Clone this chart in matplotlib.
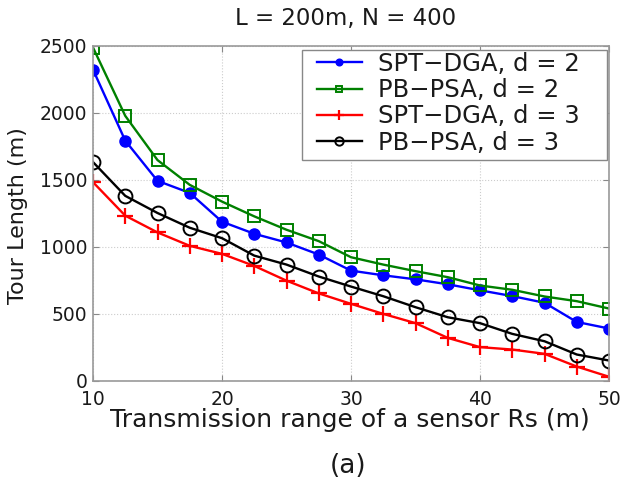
import matplotlib
matplotlib.use("Agg")
import matplotlib.pyplot as plt
from matplotlib.patches import Rectangle

plt.rcParams['font.family'] = ['DejaVu Sans']

rs = [10, 12.5, 15, 17.5, 20, 22.5, 25, 27.5, 30, 32.5, 35, 37.5, 40, 42.5, 45, 47.5, 50]
spt_d2 = [2320, 1790, 1490, 1400, 1185, 1095, 1030, 940, 820, 785, 755, 718, 673, 630, 580, 437, 388]
pb_d2 = [2485, 1975, 1645, 1460, 1335, 1225, 1125, 1040, 920, 865, 816, 771, 709, 677, 627, 592, 537]
spt_d3 = [1480, 1230, 1105, 1005, 945, 855, 745, 650, 572, 497, 428, 318, 249, 231, 199, 104, 28]
pb_d3 = [1630, 1378, 1250, 1140, 1062, 932, 865, 776, 701, 629, 547, 472, 428, 348, 293, 194, 149]
labels = ['SPT\u2212DGA, d = 2', 'PB\u2212PSA, d = 2', 'SPT\u2212DGA, d = 3', 'PB\u2212PSA, d = 3']
xticks = [10, 20, 30, 40, 50]
yticks = [0, 500, 1000, 1500, 2000, 2500]

W, H = 623, 479
fig = plt.figure(figsize=(W / 100, H / 100), dpi=100)
AX_L, AX_R, AX_T, AX_B = 93, 609, 45.5, 380.5
ax = fig.add_axes([AX_L / W, 1 - AX_B / H, (AX_R - AX_L) / W, (AX_B - AX_T) / H])

def ax_x(px):
    return (px - AX_L) / (AX_R - AX_L)

def ax_y(py):
    return (AX_B - py) / (AX_B - AX_T)

lw = 1.7
ax.plot(rs, spt_d2, color='#0000ff', marker='o', ms=8, mfc='#0000ff', mec='#0000ff', lw=lw, label=labels[0])
ax.plot(rs, pb_d2, color='#008000', marker='s', ms=8, mfc='none', mec='#008000', mew=1.4, lw=lw, label=labels[1])
ax.plot(rs, spt_d3, color='#ff0000', marker='+', ms=11, mew=1.6, lw=lw, label=labels[2])
ax.plot(rs, pb_d3, color='black', marker='o', ms=10, mfc='none', mec='black', mew=1.4, lw=lw, label=labels[3])

ax.set_xlim(10, 50)
ax.set_ylim(0, 2500)
ax.set_xticks(xticks)
ax.set_yticks(yticks)
ax.tick_params(direction='in', length=4, labelsize=13.5, colors='#888888', labelcolor='#1a1a1a',
               top=True, right=True)
ax.tick_params(axis='x', pad=7)
ax.tick_params(axis='y', pad=4)
ax.grid(True, linestyle=':', color='#cccccc', linewidth=0.8)
for s in ax.spines.values():
    s.set_color('#999999')
    s.set_linewidth(1.2)

fig.text(346 / W, 1 - 18 / H, 'L = 200m, N = 400', fontsize=16.5, ha='center', va='center', color='#1a1a1a')
fig.text(350 / W, 1 - 427 / H, 'Transmission range of a sensor Rs (m)', fontsize=18, ha='center', va='baseline', color='#1a1a1a')
fig.text(18 / W, 1 - 216 / H, 'Tour Length (m)', fontsize=16, rotation=90, ha='center', va='center', color='#1a1a1a')
fig.text(348 / W, 1 - 466 / H, '(a)', fontsize=19, ha='center', va='center', color='#1a1a1a')

# legend frame
frame = Rectangle((ax_x(302), ax_y(160)), ax_x(607) - ax_x(302), ax_y(50) - ax_y(160),
                  transform=ax.transAxes, facecolor='white', edgecolor='#888888', lw=1.0, zorder=4)
ax.add_patch(frame)
leg = ax.legend(loc='upper left', bbox_to_anchor=(ax_x(317), ax_y(52)), frameon=False,
                fontsize=17.5, markerscale=0.6, labelspacing=0.09,
                handlelength=1.85, handletextpad=0.65, borderpad=0.0, borderaxespad=0.0)
leg.set_zorder(5)
for t in leg.get_texts():
    t.set_color('#1a1a1a')

fig.savefig('out.png', dpi=100)
